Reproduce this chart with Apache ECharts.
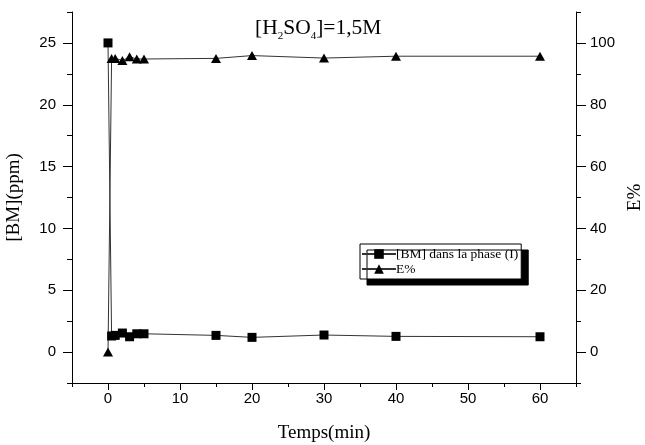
<!DOCTYPE html>
<html>
<head>
<meta charset="utf-8">
<script src="https://cdn.jsdelivr.net/npm/echarts@6/dist/echarts.min.js"></script>
<style>
html,body{margin:0;padding:0;background:#fff;}
#chart{width:645px;height:445px;}
</style>
</head>
<body>
<div id="chart"></div>
<script>
// Data
const times = [0, 0.5, 1, 2, 3, 4, 5, 15, 20, 30, 40, 60];
const bmValues = [25, 1.3, 1.35, 1.54, 1.24, 1.48, 1.48, 1.35, 1.19, 1.38, 1.27, 1.24];
const ePercent = [0, 95.0, 95.0, 94.3, 95.5, 94.8, 94.8, 95.0, 95.9, 95.1, 95.7, 95.7];
const seriesNames = ['[BM] dans la phase (I)', 'E%'];
const xLabels = [0, 10, 20, 30, 40, 50, 60];
const yLeftLabels = [0, 5, 10, 15, 20, 25];
const yRightLabels = [0, 20, 40, 60, 80, 100];

const sans = 'Liberation Sans, Arial, sans-serif';
const serif = 'Liberation Serif, Times New Roman, serif';

const chart = echarts.init(document.getElementById('chart'), null, {renderer: 'canvas'});

const option = {
  animation: false,
  backgroundColor: '#fff',
  title: {
    text: '{a|[H}{s|2}{a|SO}{s|4}{a|]=1,5M}',
    left: 250,
    top: 8,
    textStyle: {
      fontWeight: 'normal',
      rich: {
        a: {fontFamily: serif, fontSize: 21.5, fontWeight: 'normal', color: '#000', lineHeight: 26, verticalAlign: 'bottom'},
        s: {fontFamily: serif, fontSize: 11, fontWeight: 'normal', color: '#000', lineHeight: 26, verticalAlign: 'bottom', padding: [0, 0, -3, 0]}
      }
    }
  },
  legend: {
    orient: 'vertical',
    left: 360,
    top: 244,
    itemWidth: 34,
    itemHeight: 12,
    itemGap: 1,
    padding: [3, 3, 3, 1],
    borderColor: '#000',
    borderWidth: 1,
    backgroundColor: '#fff',
    shadowColor: '#000',
    shadowOffsetX: 7,
    shadowOffsetY: 6,
    shadowBlur: 0.01,
    textStyle: {fontFamily: serif, fontSize: 13.5, color: '#000', padding: [0, 0, 0, -5]},
    data: seriesNames
  },
  grid: {left: 72, right: 69, top: 12, bottom: 62, containLabel: false, outerBoundsMode: 'none'},
  xAxis: [
    {
      type: 'value', min: -5, max: 65, interval: 5, position: 'bottom',
      name: 'Temps(min)', nameLocation: 'middle', nameGap: 41,
      nameTextStyle: {fontFamily: serif, fontSize: 19, color: '#000'},
      axisLine: {show: true, onZero: false, lineStyle: {color: '#000', width: 1}},
      axisTick: {show: true, length: 4, inside: false, lineStyle: {color: '#000'}},
      axisLabel: {customValues: xLabels, fontFamily: sans, fontSize: 15, color: '#000', margin: 8},
      splitLine: {show: false}
    },
    {
      type: 'value', min: -5, max: 65, position: 'bottom',
      axisLine: {show: false, onZero: false},
      axisTick: {show: true, length: 7, customValues: xLabels, lineStyle: {color: '#000'}},
      axisLabel: {show: false},
      splitLine: {show: false}
    }
  ],
  yAxis: [
    {
      type: 'value', min: -2.5, max: 27.5, interval: 2.5, position: 'left',
      name: '[BM](ppm)', nameLocation: 'middle', nameGap: 48, nameRotate: 90,
      nameTextStyle: {fontFamily: serif, fontSize: 19, color: '#000'},
      axisLine: {show: true, onZero: false, lineStyle: {color: '#000', width: 1}},
      axisTick: {show: true, length: 5, lineStyle: {color: '#000'}},
      axisLabel: {customValues: yLeftLabels, fontFamily: sans, fontSize: 15, color: '#000', margin: 16},
      splitLine: {show: false}
    },
    {
      type: 'value', min: -10, max: 110, interval: 10, position: 'right',
      name: 'E%', nameLocation: 'middle', nameGap: 48, nameRotate: 90,
      nameTextStyle: {fontFamily: serif, fontSize: 19, color: '#000'},
      axisLine: {show: true, onZero: false, lineStyle: {color: '#000', width: 1}},
      axisTick: {show: true, length: 5, lineStyle: {color: '#000'}},
      axisLabel: {customValues: yRightLabels, fontFamily: sans, fontSize: 15, color: '#000', margin: 14},
      splitLine: {show: false}
    },
    {
      type: 'value', min: -2.5, max: 27.5, position: 'left',
      axisLine: {show: false, onZero: false},
      axisTick: {show: true, length: 9, customValues: yLeftLabels, lineStyle: {color: '#000'}},
      axisLabel: {show: false},
      splitLine: {show: false}
    },
    {
      type: 'value', min: -10, max: 110, position: 'right',
      axisLine: {show: false, onZero: false},
      axisTick: {show: true, length: 10, customValues: yRightLabels, lineStyle: {color: '#000'}},
      axisLabel: {show: false},
      splitLine: {show: false}
    }
  ],
  series: [
    {
      name: seriesNames[0],
      type: 'line',
      xAxisIndex: 0,
      yAxisIndex: 0,
      data: times.map((t, i) => [t, bmValues[i]]),
      symbol: 'rect',
      symbolSize: 9,
      itemStyle: {color: '#000'},
      lineStyle: {color: '#333', width: 1},
      z: 3
    },
    {
      name: seriesNames[1],
      type: 'line',
      xAxisIndex: 0,
      yAxisIndex: 1,
      data: times.map((t, i) => [t, ePercent[i]]),
      symbol: 'triangle',
      symbolSize: [10, 9],
      itemStyle: {color: '#000'},
      lineStyle: {color: '#333', width: 1},
      z: 3
    }
  ]
};

chart.setOption(option);
</script>
</body>
</html>
